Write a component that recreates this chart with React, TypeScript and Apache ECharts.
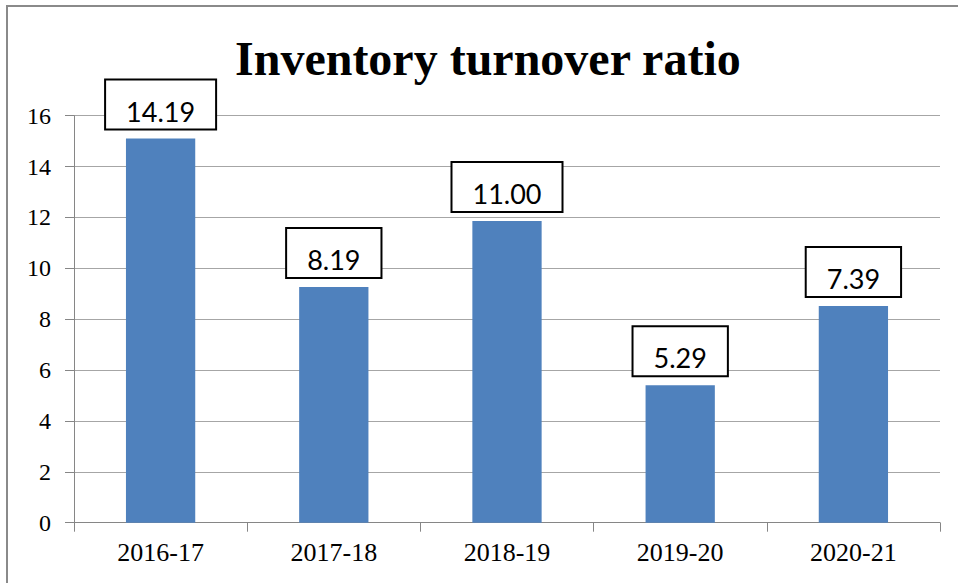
import React, { useEffect, useRef } from "react";
import * as echarts from "echarts";

const categories = ["2016-17", "2017-18", "2018-19", "2019-20", "2020-21"];
const barValues = [15.1, 9.27, 11.86, 5.4, 8.52];
const labelTexts = ["14.19", "8.19", "11.00", "5.29", "7.39"];
const titleText = "Inventory turnover ratio";

export default function App() {
  const ref = useRef<HTMLDivElement>(null);
  useEffect(() => {
    if (!ref.current) return;
    const chart = echarts.init(ref.current, null, { renderer: "svg" });
    chart.setOption({
      animation: false,
      backgroundColor: "#ffffff",
      title: {
        text: titleText,
        left: 230,
        top: 29,
        textStyle: {
          fontFamily: "Liberation Serif",
          fontWeight: "bold",
          fontSize: 48,
          color: "#000",
          lineHeight: 48,
        },
      },
      graphic: [
        {
          type: "rect",
          shape: { x: 7, y: 6, width: 980, height: 620 },
          style: { fill: "none", stroke: "#8a8a8a", lineWidth: 2 },
          silent: true,
        },
      ],
      grid: { left: 74, right: 18, top: 115.7, bottom: 60.3 },
      xAxis: {
        type: "category",
        data: categories,
        axisLine: { lineStyle: { color: "#868686", width: 1 } },
        axisTick: { show: true, length: 9, lineStyle: { color: "#868686" } },
        axisLabel: {
          fontFamily: "Liberation Serif",
          fontSize: 26,
          color: "#000",
          margin: 17,
        },
      },
      yAxis: {
        type: "value",
        min: 0,
        max: 16,
        interval: 2,
        axisLine: { show: true, lineStyle: { color: "#868686", width: 1 } },
        axisTick: { show: true, length: 9, lineStyle: { color: "#868686" } },
        splitLine: { lineStyle: { color: "#a6a6a6", width: 1 } },
        axisLabel: {
          fontFamily: "Liberation Serif",
          fontSize: 24,
          color: "#000",
          margin: 23,
        },
      },
      series: [
        {
          type: "bar",
          data: barValues,
          barWidth: "40%",
          itemStyle: { color: "#4F81BD" },
          label: {
            show: true,
            position: "top",
            distance: 10,
            formatter: (p: any) => labelTexts[p.dataIndex],
            fontFamily: "Lato",
            fontSize: 27,
            lineHeight: 27,
            color: "#000",
            backgroundColor: "#ffffff",
            borderColor: "#000",
            borderWidth: 2,
            padding: [17, 20, 4, 20],
          },
        },
      ],
    });
    return () => chart.dispose();
  }, []);
  return (
    <div
      ref={ref}
      style={{ position: "fixed", left: 0, top: 0, width: 958, height: 583 }}
    />
  );
}
